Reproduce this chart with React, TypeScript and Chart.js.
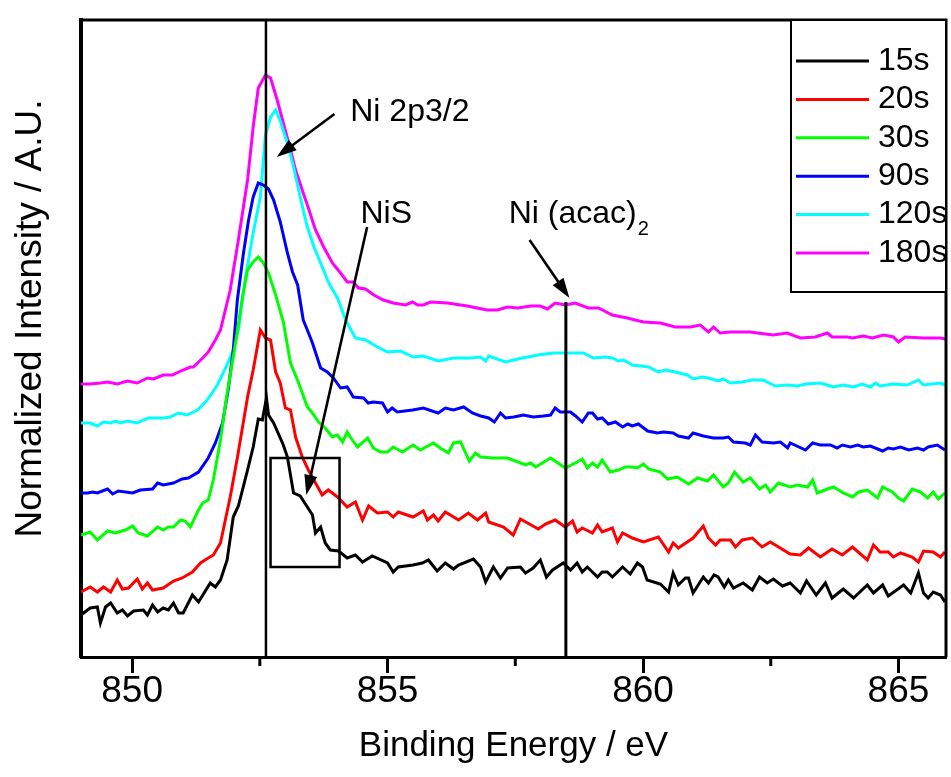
import React, { useEffect, useRef } from 'react';
import { Chart, registerables } from 'chart.js';

Chart.register(...registerables);

const FONT = "'Liberation Sans', Arial, Helvetica, sans-serif";

const seriesLabels = ['15s', '20s', '30s', '90s', '120s', '180s'];
const seriesColors = ['#000000', '#ff0000', '#00ff00', '#0000ff', '#00ffff', '#ff00ff'];

const xTitle = 'Binding Energy / eV';
const yTitle = 'Normalized Intensity / A.U.';
const xMajorTicks = [850, 855, 860, 865];
const xMinorTicks = [852.5, 857.5, 862.5];
const X_MIN = 849;
const X_MAX = 865.93;
const Y_MIN = 0;
const Y_MAX = 6.37;

// 15s
const e15 = [849.00, 849.18, 849.32, 849.38, 849.48, 849.58, 849.71, 849.81, 849.91, 850.03,
  850.22, 850.30, 850.40, 850.50, 850.61, 850.71, 850.81, 850.91, 851.00, 851.18,
  851.30, 851.53, 851.63, 851.73, 851.86, 851.98, 852.08, 852.26, 852.37, 852.47,
  852.55, 852.63, 852.67, 852.77, 852.96, 853.04, 853.16, 853.29, 853.43, 853.53,
  853.59, 853.69, 853.78, 853.88, 854.04, 854.21, 854.37, 854.51, 854.70, 855.00,
  855.11, 855.21, 855.50, 855.68, 855.80, 855.97, 856.13, 856.29, 856.39, 856.68,
  856.82, 856.92, 857.07, 857.21, 857.35, 857.60, 857.70, 857.85, 857.99, 858.11,
  858.23, 858.44, 858.58, 858.71, 858.81, 858.91, 859.11, 859.20, 859.30, 859.40,
  859.60, 859.75, 859.89, 859.99, 860.08, 860.34, 860.50, 860.59, 860.69, 860.83,
  860.89, 860.98, 861.18, 861.28, 861.39, 861.47, 861.59, 861.67, 861.77, 861.96,
  862.14, 862.28, 862.43, 862.55, 862.73, 862.88, 863.08, 863.20, 863.39, 863.57,
  863.70, 863.92, 864.12, 864.39, 864.51, 864.69, 864.80, 865.10, 865.24, 865.39,
  865.49, 865.58, 865.68, 865.82, 865.91];
const i15 = [0.42, 0.49, 0.50, 0.34, 0.50, 0.54, 0.44, 0.47, 0.41, 0.46,
  0.47, 0.42, 0.52, 0.45, 0.49, 0.47, 0.54, 0.44, 0.44, 0.62,
  0.55, 0.74, 0.70, 0.77, 0.97, 1.40, 1.51, 1.87, 2.10, 2.38,
  2.37, 2.59, 2.42, 2.34, 2.12, 2.00, 1.64, 1.61, 1.50, 1.42,
  1.24, 1.30, 1.14, 1.07, 1.06, 0.99, 1.02, 0.95, 1.01, 0.94,
  0.85, 0.90, 0.92, 0.94, 0.97, 0.86, 0.94, 0.88, 0.92, 0.98,
  0.90, 0.75, 0.90, 0.79, 0.89, 0.90, 0.84, 0.89, 0.97, 0.80,
  0.87, 0.94, 0.87, 0.94, 0.85, 0.90, 0.80, 0.85, 0.85, 0.80,
  0.90, 0.83, 0.94, 0.90, 0.77, 0.73, 0.65, 0.84, 0.72, 0.79,
  0.79, 0.64, 0.80, 0.74, 0.82, 0.80, 0.70, 0.77, 0.69, 0.74,
  0.67, 0.80, 0.74, 0.78, 0.71, 0.74, 0.64, 0.76, 0.62, 0.74,
  0.59, 0.68, 0.59, 0.72, 0.64, 0.72, 0.61, 0.72, 0.64, 0.84,
  0.64, 0.59, 0.65, 0.62, 0.55];

// 20s
const e20 = [849.00, 849.18, 849.32, 849.44, 849.58, 849.71, 849.81, 849.93, 850.10, 850.20,
  850.30, 850.40, 850.61, 850.81, 850.98, 851.18, 851.34, 851.49, 851.59, 851.73,
  851.92, 852.06, 852.26, 852.37, 852.51, 852.61, 852.71, 852.81, 852.90, 853.00,
  853.10, 853.20, 853.33, 853.45, 853.59, 853.72, 853.84, 854.02, 854.21, 854.37,
  854.51, 854.63, 854.80, 855.00, 855.11, 855.21, 855.50, 855.70, 855.78, 855.90,
  855.99, 856.13, 856.39, 856.58, 856.76, 856.92, 856.98, 857.27, 857.46, 857.60,
  857.74, 857.95, 858.09, 858.28, 858.48, 858.62, 858.71, 858.81, 859.01, 859.11,
  859.20, 859.40, 859.50, 859.60, 859.79, 860.01, 860.30, 860.50, 860.59, 860.69,
  860.98, 861.18, 861.28, 861.42, 861.51, 861.71, 861.81, 861.94, 862.14, 862.33,
  862.49, 862.88, 863.08, 863.24, 863.47, 863.70, 863.90, 864.10, 864.39, 864.51,
  864.64, 864.80, 864.90, 865.04, 865.27, 865.39, 865.49, 865.68, 865.82, 865.91];
const i20 = [0.65, 0.70, 0.65, 0.70, 0.65, 0.77, 0.68, 0.69, 0.78, 0.68,
  0.74, 0.67, 0.69, 0.76, 0.79, 0.85, 0.94, 0.99, 1.02, 1.14,
  1.60, 1.99, 2.60, 2.87, 3.27, 3.19, 3.17, 2.85, 2.74, 2.49,
  2.47, 2.20, 2.00, 1.87, 1.74, 1.62, 1.67, 1.60, 1.50, 1.55,
  1.37, 1.51, 1.44, 1.45, 1.40, 1.45, 1.40, 1.46, 1.37, 1.42,
  1.36, 1.45, 1.37, 1.44, 1.37, 1.44, 1.35, 1.30, 1.22, 1.38,
  1.34, 1.28, 1.33, 1.37, 1.30, 1.36, 1.25, 1.29, 1.24, 1.32,
  1.25, 1.29, 1.15, 1.24, 1.19, 1.15, 1.20, 1.05, 1.14, 1.09,
  1.19, 1.31, 1.19, 1.12, 1.17, 1.17, 1.10, 1.17, 1.19, 1.10,
  1.15, 1.03, 1.02, 1.09, 1.00, 1.08, 1.02, 1.10, 0.97, 1.12,
  1.05, 1.05, 1.00, 1.04, 1.00, 0.95, 1.06, 1.05, 1.00, 1.05];

// 30s
const e30 = [849.00, 849.18, 849.32, 849.52, 849.67, 849.87, 850.01, 850.12, 850.30, 850.50,
  850.61, 850.71, 850.81, 850.95, 851.04, 851.14, 851.28, 851.38, 851.49, 851.59,
  851.73, 851.86, 851.98, 852.08, 852.16, 852.26, 852.37, 852.47, 852.57, 852.67,
  852.81, 852.96, 853.10, 853.26, 853.43, 853.53, 853.65, 853.78, 853.92, 854.02,
  854.12, 854.21, 854.27, 854.41, 854.61, 854.72, 854.86, 855.00, 855.11, 855.29,
  855.50, 855.64, 855.90, 856.03, 856.19, 856.29, 856.43, 856.60, 856.72, 856.82,
  857.07, 857.35, 857.70, 857.80, 857.90, 858.19, 858.48, 858.71, 858.81, 858.91,
  859.01, 859.11, 859.20, 859.36, 859.52, 859.65, 859.79, 859.89, 860.01, 860.11,
  860.34, 860.48, 860.67, 860.89, 861.07, 861.26, 861.38, 861.57, 861.67, 861.79,
  861.96, 862.10, 862.28, 862.40, 862.49, 862.65, 862.88, 863.02, 863.22, 863.32,
  863.41, 863.61, 863.73, 863.92, 864.10, 864.22, 864.39, 864.59, 864.69, 864.88,
  865.00, 865.10, 865.27, 865.43, 865.57, 865.68, 865.78, 865.91];
const i30 = [1.22, 1.25, 1.17, 1.26, 1.24, 1.27, 1.31, 1.24, 1.21, 1.30,
  1.27, 1.30, 1.30, 1.37, 1.36, 1.30, 1.45, 1.54, 1.57, 1.77,
  2.17, 2.64, 3.00, 3.32, 3.60, 3.87, 3.95, 4.00, 3.94, 3.84,
  3.62, 3.35, 2.94, 2.74, 2.50, 2.44, 2.35, 2.29, 2.20, 2.22,
  2.15, 2.25, 2.20, 2.10, 2.19, 2.09, 2.05, 2.05, 2.10, 2.05,
  2.12, 2.07, 2.14, 2.09, 2.04, 2.14, 2.15, 1.96, 2.04, 2.00,
  1.99, 1.99, 1.92, 1.94, 1.90, 1.99, 1.89, 1.95, 1.98, 1.89,
  1.94, 1.90, 1.97, 1.85, 1.87, 1.90, 1.90, 1.89, 1.93, 1.88,
  1.85, 1.78, 1.80, 1.73, 1.79, 1.76, 1.82, 1.70, 1.74, 1.85,
  1.75, 1.79, 1.68, 1.72, 1.65, 1.74, 1.70, 1.72, 1.70, 1.77,
  1.64, 1.68, 1.70, 1.64, 1.60, 1.65, 1.67, 1.59, 1.70, 1.65,
  1.59, 1.56, 1.68, 1.65, 1.59, 1.65, 1.58, 1.64];

// 90s
const e90 = [849.00, 849.13, 849.23, 849.32, 849.52, 849.62, 849.73, 850.01, 850.16, 850.40,
  850.50, 850.61, 850.81, 850.98, 851.10, 851.30, 851.49, 851.63, 851.77, 851.88,
  851.98, 852.06, 852.18, 852.28, 852.37, 852.47, 852.57, 852.67, 852.77, 852.90,
  853.04, 853.14, 853.24, 853.35, 853.43, 853.53, 853.69, 853.82, 853.94, 854.08,
  854.21, 854.33, 854.53, 854.62, 854.72, 854.90, 855.00, 855.09, 855.19, 855.49,
  855.70, 855.99, 856.13, 856.29, 856.49, 856.66, 856.82, 856.98, 857.09, 857.21,
  857.31, 857.47, 857.66, 857.85, 858.05, 858.19, 858.28, 858.38, 858.58, 858.68,
  858.81, 858.93, 859.01, 859.11, 859.20, 859.32, 859.46, 859.60, 859.70, 859.79,
  859.91, 860.09, 860.28, 860.40, 860.59, 860.69, 860.89, 860.98, 861.18, 861.38,
  861.57, 861.67, 861.77, 862.00, 862.10, 862.20, 862.33, 862.55, 862.69, 862.83,
  862.88, 863.18, 863.32, 863.47, 863.67, 863.80, 863.90, 864.06, 864.20, 864.31,
  864.45, 864.69, 864.80, 864.90, 865.04, 865.20, 865.37, 865.49, 865.58, 865.76, 865.91];
const i90 = [1.64, 1.64, 1.65, 1.64, 1.68, 1.63, 1.66, 1.64, 1.67, 1.68,
  1.74, 1.72, 1.74, 1.78, 1.79, 1.85, 1.99, 2.14, 2.34, 2.67,
  3.07, 3.57, 4.04, 4.37, 4.60, 4.74, 4.72, 4.68, 4.57, 4.35,
  4.04, 3.85, 3.72, 3.37, 3.27, 3.14, 2.89, 2.85, 2.79, 2.69,
  2.70, 2.60, 2.59, 2.54, 2.55, 2.54, 2.45, 2.49, 2.45, 2.47,
  2.49, 2.44, 2.49, 2.47, 2.50, 2.44, 2.41, 2.39, 2.35, 2.44,
  2.39, 2.40, 2.42, 2.40, 2.41, 2.42, 2.49, 2.45, 2.45, 2.41,
  2.35, 2.44, 2.44, 2.38, 2.39, 2.33, 2.35, 2.30, 2.33, 2.31,
  2.33, 2.26, 2.24, 2.25, 2.24, 2.21, 2.19, 2.24, 2.21, 2.19,
  2.19, 2.20, 2.15, 2.14, 2.12, 2.22, 2.15, 2.14, 2.15, 2.09,
  2.14, 2.07, 2.14, 2.12, 2.12, 2.09, 2.12, 2.10, 2.12, 2.10,
  2.11, 2.06, 2.09, 2.08, 2.10, 2.07, 2.09, 2.07, 2.10, 2.12, 2.07];

// 120s
const e120 = [849.00, 849.18, 849.32, 849.44, 849.58, 849.67, 849.77, 849.91, 850.10, 850.22,
  850.32, 850.61, 850.75, 850.91, 851.08, 851.28, 851.47, 851.67, 851.83, 851.98,
  852.08, 852.22, 852.37, 852.51, 852.61, 852.71, 852.81, 852.90, 853.04, 853.16,
  853.29, 853.43, 853.56, 853.69, 853.85, 854.02, 854.18, 854.37, 854.57, 854.80,
  855.00, 855.25, 855.50, 855.70, 855.99, 856.29, 856.62, 856.82, 856.92, 856.98,
  857.31, 857.55, 857.74, 857.94, 858.25, 858.48, 858.71, 858.83, 859.03, 859.26,
  859.40, 859.52, 859.62, 859.79, 859.95, 860.11, 860.30, 860.44, 860.63, 860.87,
  860.98, 861.16, 861.28, 861.47, 861.57, 861.71, 861.94, 862.14, 862.35, 862.59,
  862.82, 863.02, 863.18, 863.47, 863.73, 863.92, 864.12, 864.29, 864.45, 864.55,
  864.64, 864.90, 865.17, 865.39, 865.49, 865.82, 865.91];
const i120 = [2.34, 2.34, 2.31, 2.35, 2.34, 2.36, 2.34, 2.36, 2.34, 2.37,
  2.39, 2.39, 2.40, 2.44, 2.42, 2.47, 2.57, 2.72, 2.89, 3.07,
  3.27, 3.80, 4.24, 4.60, 5.22, 5.40, 5.47, 5.36, 5.14, 4.90,
  4.60, 4.30, 4.10, 3.94, 3.74, 3.59, 3.37, 3.19, 3.17, 3.10,
  3.05, 3.06, 3.00, 3.01, 2.96, 2.99, 2.99, 3.00, 2.96, 3.01,
  2.95, 2.98, 3.00, 3.02, 3.04, 3.04, 3.04, 3.04, 2.99, 3.00,
  2.99, 2.96, 2.97, 2.92, 2.91, 2.90, 2.85, 2.87, 2.85, 2.82,
  2.78, 2.80, 2.79, 2.76, 2.78, 2.74, 2.75, 2.77, 2.77, 2.71,
  2.72, 2.71, 2.73, 2.74, 2.70, 2.72, 2.70, 2.73, 2.70, 2.74,
  2.71, 2.73, 2.72, 2.77, 2.72, 2.74, 2.72];

// 180s
const e180 = [849.00, 849.18, 849.38, 849.52, 849.71, 849.91, 850.10, 850.30, 850.42, 850.61,
  850.79, 850.95, 851.14, 851.20, 851.38, 851.49, 851.63, 851.73, 851.92, 852.08,
  852.26, 852.37, 852.47, 852.61, 852.71, 852.84, 852.96, 853.10, 853.20, 853.33,
  853.45, 853.59, 853.75, 853.92, 854.08, 854.21, 854.33, 854.43, 854.57, 854.73,
  854.92, 855.11, 855.35, 855.49, 855.59, 855.70, 855.84, 856.17, 856.56, 856.95,
  857.15, 857.35, 857.55, 857.80, 857.99, 858.13, 858.28, 858.48, 858.67, 858.93,
  859.13, 859.40, 859.69, 860.01, 860.34, 860.63, 860.93, 861.12, 861.28, 861.38,
  861.51, 861.71, 862.10, 862.24, 862.55, 862.82, 863.08, 863.37, 863.61, 863.70,
  864.00, 864.10, 864.31, 864.49, 864.71, 864.90, 865.00, 865.13, 865.49, 865.82, 865.91];
const i180 = [2.73, 2.73, 2.74, 2.75, 2.73, 2.76, 2.74, 2.79, 2.78, 2.82,
  2.82, 2.86, 2.90, 2.90, 2.99, 3.05, 3.17, 3.27, 3.67, 4.17,
  4.77, 5.30, 5.69, 5.82, 5.79, 5.57, 5.34, 5.07, 4.87, 4.67,
  4.49, 4.27, 4.10, 3.94, 3.84, 3.75, 3.75, 3.69, 3.68, 3.62,
  3.57, 3.54, 3.52, 3.55, 3.52, 3.52, 3.55, 3.54, 3.51, 3.47,
  3.47, 3.50, 3.49, 3.51, 3.51, 3.48, 3.54, 3.52, 3.54, 3.49,
  3.49, 3.42, 3.39, 3.35, 3.34, 3.30, 3.30, 3.32, 3.25, 3.30,
  3.24, 3.25, 3.25, 3.24, 3.22, 3.24, 3.19, 3.20, 3.24, 3.20,
  3.20, 3.19, 3.21, 3.19, 3.22, 3.20, 3.15, 3.20, 3.19, 3.19, 3.18];

const seriesEnergies = [e15, e20, e30, e90, e120, e180];
const seriesIntensities = [i15, i20, i30, i90, i120, i180];

// annotations (data units: eV, normalized intensity)
const peakLineE = 852.62;
const acacLineE = 858.49;
const acacLineTop = 3.55;
const nisBox = { e0: 852.71, e1: 854.06, v0: 0.90, v1: 1.99 };
const arrows = [
  { e0: 853.96, v0: 5.43, e1: 852.83, v1: 5.00 },
  { e0: 854.60, v0: 4.30, e1: 853.41, v1: 1.62 },
  { e0: 857.78, v0: 4.17, e1: 858.56, v1: 3.59 },
];
const notes = [
  { text: 'Ni 2p3/2', sub: '', e: 854.27, v: 5.36 },
  { text: 'NiS', sub: '', e: 854.47, v: 4.34 },
  { text: 'Ni (acac)', sub: '2', e: 857.37, v: 4.34 },
];

const overlayPlugin = {
  id: 'overlay',
  afterDatasetsDraw(chart: any) {
    const { ctx, chartArea, scales } = chart;
    const xs = scales.x;
    const ys = scales.y;
    const X = (e: number) => xs.getPixelForValue(e);
    const Y = (v: number) => ys.getPixelForValue(v);
    ctx.save();
    ctx.strokeStyle = '#000';
    ctx.fillStyle = '#000';
    ctx.lineCap = 'butt';

    // vertical reference lines
    ctx.lineWidth = 2.5;
    ctx.beginPath();
    ctx.moveTo(X(peakLineE), chartArea.top);
    ctx.lineTo(X(peakLineE), chartArea.bottom);
    ctx.stroke();
    ctx.lineWidth = 3;
    ctx.beginPath();
    ctx.moveTo(X(acacLineE), Y(acacLineTop));
    ctx.lineTo(X(acacLineE), chartArea.bottom);
    ctx.stroke();

    // NiS box
    ctx.lineWidth = 2.5;
    ctx.strokeRect(X(nisBox.e0), Y(nisBox.v1), X(nisBox.e1) - X(nisBox.e0), Y(nisBox.v0) - Y(nisBox.v1));

    // arrows
    arrows.forEach((a) => {
      const x0 = X(a.e0), y0 = Y(a.v0), x1 = X(a.e1), y1 = Y(a.v1);
      const ang = Math.atan2(y1 - y0, x1 - x0);
      const L = 20, W = 6.5;
      const bx = x1 - L * Math.cos(ang), by = y1 - L * Math.sin(ang);
      ctx.lineWidth = 2.6;
      ctx.beginPath();
      ctx.moveTo(x0, y0);
      ctx.lineTo(bx + 2 * Math.cos(ang), by + 2 * Math.sin(ang));
      ctx.stroke();
      ctx.beginPath();
      ctx.moveTo(x1, y1);
      ctx.lineTo(bx - W * Math.sin(ang), by + W * Math.cos(ang));
      ctx.lineTo(bx + W * Math.sin(ang), by - W * Math.cos(ang));
      ctx.closePath();
      ctx.fill();
    });

    // annotation text
    ctx.textAlign = 'left';
    ctx.textBaseline = 'alphabetic';
    notes.forEach((n) => {
      ctx.font = `32px ${FONT}`;
      const x = X(n.e), y = Y(n.v);
      ctx.fillText(n.text, x, y);
      if (n.sub) {
        const w = ctx.measureText(n.text).width;
        ctx.font = `20px ${FONT}`;
        ctx.fillText(n.sub, x + w + 1, y + 12);
      }
    });

    // frame top/right
    ctx.lineWidth = 3;
    ctx.beginPath();
    ctx.moveTo(chartArea.left, chartArea.top);
    ctx.lineTo(chartArea.right, chartArea.top);
    ctx.lineTo(chartArea.right, chartArea.bottom);
    ctx.stroke();

    // minor x ticks
    ctx.lineWidth = 3;
    xMinorTicks.forEach((t) => {
      const px = X(t);
      ctx.beginPath();
      ctx.moveTo(px, chartArea.bottom);
      ctx.lineTo(px, chartArea.bottom + 9);
      ctx.stroke();
    });

    // legend
    const boxW = 155, boxH = 272;
    const bx = chartArea.right - boxW;
    const by = chartArea.top;
    ctx.fillStyle = '#fff';
    ctx.fillRect(bx, by, boxW, boxH);
    ctx.lineWidth = 2;
    ctx.strokeStyle = '#000';
    ctx.strokeRect(bx, by, boxW, boxH);
    ctx.font = `32px ${FONT}`;
    ctx.textBaseline = 'middle';
    chart.data.datasets.forEach((ds: any, i: number) => {
      const ly = by + 41 + i * 38.4;
      ctx.strokeStyle = ds.borderColor;
      ctx.lineWidth = 3;
      ctx.beginPath();
      ctx.moveTo(bx + 5, ly);
      ctx.lineTo(bx + 78, ly);
      ctx.stroke();
      ctx.fillStyle = '#000';
      ctx.fillText(ds.label, bx + 87, ly);
    });

    // y title
    ctx.save();
    ctx.translate(chartArea.left - 50, (chartArea.top + chartArea.bottom) / 2 - 20);
    ctx.rotate(-Math.PI / 2);
    ctx.font = `37px ${FONT}`;
    ctx.textAlign = 'center';
    ctx.textBaseline = 'middle';
    ctx.fillStyle = '#000';
    ctx.fillText(yTitle, 0, 0);
    ctx.restore();

    ctx.restore();
  },
};

export default function App() {
  const canvasRef = useRef<HTMLCanvasElement | null>(null);

  useEffect(() => {
    const canvas = canvasRef.current;
    if (!canvas) return;
    const datasets = seriesLabels.map((label, k) => ({
      label,
      data: seriesEnergies[k].map((e, i) => ({ x: e, y: seriesIntensities[k][i] })),
      borderColor: seriesColors[k],
      backgroundColor: seriesColors[k],
      borderWidth: 3,
      pointRadius: 0,
      tension: 0,
      fill: false,
    }));
    const chart = new Chart(canvas, {
      type: 'line',
      data: { datasets },
      plugins: [overlayPlugin],
      options: {
        animation: false,
        responsive: false,
        maintainAspectRatio: false,
        layout: { padding: { top: 20, right: 5, left: 0, bottom: 0 } },
        plugins: {
          legend: { display: false },
          tooltip: { enabled: false },
          title: { display: false },
        },
        scales: {
          x: {
            type: 'linear',
            min: X_MIN,
            max: X_MAX,
            afterBuildTicks: (scale: any) => {
              scale.ticks = xMajorTicks.map((v) => ({ value: v }));
            },
            afterFit: (scale: any) => {
              scale.height = 120;
            },
            ticks: {
              autoSkip: false,
              maxRotation: 0,
              padding: 0,
              color: '#000',
              font: { size: 37, family: FONT, lineHeight: 1 },
              callback: (v: any) => String(v),
            },
            grid: {
              display: true,
              drawOnChartArea: false,
              drawTicks: true,
              tickLength: 16,
              tickWidth: 3,
              tickColor: '#000',
            },
            border: { display: true, width: 3, color: '#000' },
            title: {
              display: true,
              text: xTitle,
              color: '#000',
              font: { size: 35, family: FONT },
              padding: { top: 0, bottom: 10 },
            },
          },
          y: {
            type: 'linear',
            min: Y_MIN,
            max: Y_MAX,
            afterFit: (scale: any) => {
              scale.width = 81;
            },
            ticks: { display: false },
            grid: { display: false },
            border: { display: true, width: 4, color: '#000' },
            title: { display: false },
          },
        },
      },
    } as any);
    return () => chart.destroy();
  }, []);

  return (
    <div style={{ position: 'absolute', left: 0, top: 0, width: 951, height: 777, background: '#fff' }}>
      <canvas ref={canvasRef} width={951} height={777} style={{ display: 'block' }} />
    </div>
  );
}
